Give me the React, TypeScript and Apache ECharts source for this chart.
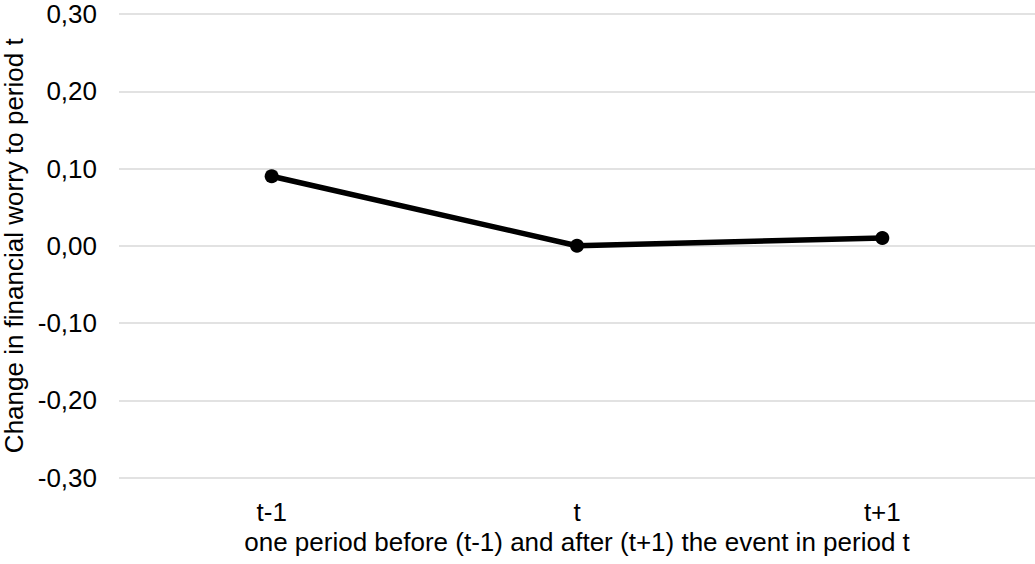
import React, { useEffect, useRef } from "react";
import * as echarts from "echarts";

const categories = ["t-1", "t", "t+1"];
const values = [0.09, 0.0, 0.01];
const yMin = -0.3;
const yMax = 0.3;
const yInterval = 0.1;
const xAxisName = "one period before (t-1) and after (t+1) the event in period t";
const yAxisName = "Change in financial worry to period t";

export default function App() {
  const ref = useRef<HTMLDivElement>(null);
  useEffect(() => {
    document.body.style.margin = "0";
    const chart = echarts.init(ref.current!, null, { renderer: "svg" });
    const font = "Liberation Sans, Arial, sans-serif";
    const fs = 26;
    chart.setOption({
      animation: false,
      backgroundColor: "#ffffff",
      grid: {
        left: 119,
        right: 0,
        top: 14,
        bottom: 86.5,
        containLabel: false,
        outerBoundsMode: "none",
      },
      xAxis: {
        type: "category",
        data: categories,
        boundaryGap: true,
        axisLine: { show: false },
        axisTick: { show: false },
        axisLabel: { color: "#000", fontSize: fs, fontFamily: font, margin: 21 },
        name: xAxisName,
        nameLocation: "middle",
        nameGap: 46,
        nameTextStyle: { color: "#000", fontSize: fs, fontFamily: font },
      },
      yAxis: {
        type: "value",
        min: yMin,
        max: yMax,
        interval: yInterval,
        axisLine: { show: false },
        axisTick: { show: false },
        splitLine: { lineStyle: { color: "#d9d9d9", width: 1.5 } },
        axisLabel: {
          color: "#000",
          fontSize: fs,
          fontFamily: font,
          lineHeight: 20,
          margin: 22,
          formatter: (v: number) => v.toFixed(2).replace(".", ",").replace("-0,00", "0,00"),
        },
        name: yAxisName,
        nameLocation: "middle",
        nameGap: 92,
        nameTextStyle: { color: "#000", fontSize: fs, fontFamily: font, lineHeight: 26 },
      },
      series: [
        {
          type: "line",
          data: values,
          symbol: "circle",
          symbolSize: 14,
          lineStyle: { color: "#000", width: 5.5 },
          itemStyle: { color: "#000" },
        },
      ],
    });
    return () => chart.dispose();
  }, []);
  return <div ref={ref} style={{ width: 1035, height: 564 }} />;
}
